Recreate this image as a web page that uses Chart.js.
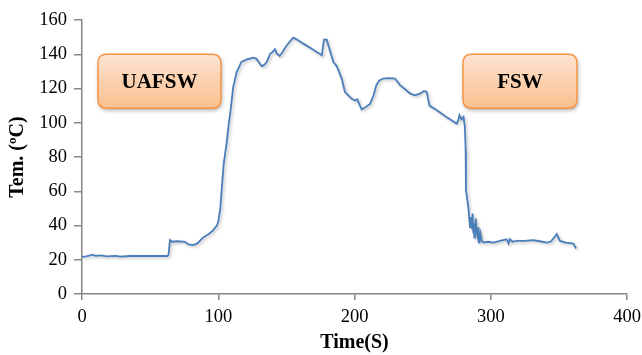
<!DOCTYPE html>
<html>
<head>
<meta charset="utf-8">
<script src="https://cdn.jsdelivr.net/npm/chart.js@4.4.1/dist/chart.umd.min.js"></script>
<style>
  html, body { margin: 0; padding: 0; background: #fff; }
  #wrap { width: 642px; height: 355px; position: relative; }
</style>
</head>
<body>
<div id="wrap"><canvas id="tempChart"></canvas></div>
<script>
// time (s) and temperature (ºC)
const timeS = [
  0, 3, 6, 7.5, 10, 14, 18, 25, 28, 35, 45, 55, 62.6, 63.5, 64.6, 66, 70, 75.6, 78, 81.7,
  85, 87, 89, 93, 96, 99, 100, 101.5, 102.5, 104, 105.4, 106, 107.5, 109, 111, 113.5, 117, 121, 125.7, 128,
  130, 132, 134, 135.5, 137, 138, 139.5, 141.6, 143, 145, 147, 150, 155, 158, 162.4, 168, 172, 176, 177.6, 179.6,
  182, 184.5, 187, 190.6, 193, 196.7, 198, 200.4, 202, 204, 205.3, 208, 211.4, 214, 216, 218, 221, 225, 229.7, 233.4,
  238, 241, 244.4, 248, 251, 253, 255, 259, 262.8, 268, 272, 275, 276, 277, 278.5, 280, 281, 281.6, 281.8, 283.5,
  284.8, 285.5, 286.2, 286.7, 287.2, 287.5, 288, 288.4, 289, 289.7, 290.5, 291, 291.6, 292.5, 293.4, 295, 298, 302, 306.8, 311.7,
  313, 314, 316, 319, 325, 331, 336, 341, 344, 346, 348.4, 350.8, 355, 360.6, 362.6
];
const tempC = [
  21.7, 22, 22.5, 23, 22.3, 22.5, 22, 22.3, 21.8, 22.2, 22.2, 22.2, 22.2, 23, 31.5, 30.5, 30.8, 30.5, 29, 28.6,
  29.7, 31.5, 33, 35, 37, 40, 42, 50, 60.6, 76, 84, 87, 98, 107, 121, 129.6, 135.5, 137, 138, 137.4,
  135, 133, 134, 135.5, 138, 140.3, 141, 143, 140.3, 139, 141, 145, 149.7, 148.5, 146.2, 143.5, 141.5, 139.4, 148.5, 148.5,
  142, 135.5, 133, 125.8, 118, 115, 114, 113, 113.7, 110, 107.7, 109, 111, 116, 121.9, 124.5, 125.8, 126, 125.8, 122,
  119, 117, 116, 117, 118.5, 118, 110, 108, 106, 103, 101, 99.5, 101, 104.4, 102, 103.4, 97.5, 84, 60.6, 51,
  39, 45, 38, 47, 36, 41, 33, 35.5, 44, 36, 33, 39, 29.6, 35, 31, 30, 30.5, 30, 31, 31.9,
  29.5, 32, 30.5, 31, 31, 31.5, 30.8, 30, 30.5, 32.5, 35, 31, 30, 29.5, 26.6
];
const xTicks = [0, 100, 200, 300, 400];
const yTicks = [0, 20, 40, 60, 80, 100, 120, 140, 160];

// callout boxes, placed in data units
const callouts = [
  { text: "UAFSW", x0: 11.7, x1: 102, y0: 140, y1: 108.5 },
  { text: "FSW", x0: 279.6, x1: 363.3, y0: 140, y1: 108.5 }
];

const SERIF = "'Liberation Serif', 'Times New Roman', serif";
const AXIS_GRAY = "#868686";

const points = timeS.map((t, i) => ({ x: t, y: tempC[i] }));

const lineShadow = {
  id: "lineShadow",
  beforeDatasetDraw(chart) {
    const ctx = chart.ctx;
    ctx.save();
    ctx.shadowColor = "rgba(0,0,0,0.25)";
    ctx.shadowBlur = 3;
    ctx.shadowOffsetX = 1.5;
    ctx.shadowOffsetY = 1.5;
  },
  afterDatasetDraw(chart) {
    chart.ctx.restore();
  }
};

function roundRect(ctx, x, y, w, h, r) {
  ctx.beginPath();
  ctx.moveTo(x + r, y);
  ctx.lineTo(x + w - r, y);
  ctx.quadraticCurveTo(x + w, y, x + w, y + r);
  ctx.lineTo(x + w, y + h - r);
  ctx.quadraticCurveTo(x + w, y + h, x + w - r, y + h);
  ctx.lineTo(x + r, y + h);
  ctx.quadraticCurveTo(x, y + h, x, y + h - r);
  ctx.lineTo(x, y + r);
  ctx.quadraticCurveTo(x, y, x + r, y);
  ctx.closePath();
}

const calloutBoxes = {
  id: "calloutBoxes",
  afterDraw(chart) {
    const { ctx, scales } = chart;
    callouts.forEach(c => {
      const left = scales.x.getPixelForValue(c.x0);
      const right = scales.x.getPixelForValue(c.x1);
      const top = scales.y.getPixelForValue(c.y0);
      const bottom = scales.y.getPixelForValue(c.y1);
      const w = right - left, h = bottom - top;
      ctx.save();
      const grad = ctx.createLinearGradient(0, top, 0, bottom);
      grad.addColorStop(0, "#fde4d2");
      grad.addColorStop(1, "#fbbf8e");
      roundRect(ctx, left, top, w, h, 9);
      ctx.shadowColor = "rgba(0,0,0,0.35)";
      ctx.shadowBlur = 4;
      ctx.shadowOffsetX = 1;
      ctx.shadowOffsetY = 2;
      ctx.fillStyle = grad;
      ctx.fill();
      ctx.shadowColor = "transparent";
      ctx.lineWidth = 1.5;
      ctx.strokeStyle = "#f79646";
      ctx.stroke();
      ctx.fillStyle = "#000";
      ctx.font = "bold 21px " + SERIF;
      ctx.textAlign = "center";
      ctx.textBaseline = "middle";
      ctx.fillText(c.text, left + w / 2, top + h / 2 + 1);
      ctx.restore();
    });
  }
};

new Chart(document.getElementById("tempChart"), {
  type: "line",
  data: {
    datasets: [{
      data: points,
      borderColor: "#4a7ebb",
      borderWidth: 1.8,
      pointRadius: 0,
      fill: false,
      tension: 0
    }]
  },
  options: {
    responsive: true,
    maintainAspectRatio: false,
    animation: false,
    events: [],
    layout: { padding: { top: 20, right: 15, left: 0, bottom: 0 } },
    plugins: {
      legend: { display: false },
      tooltip: { enabled: false }
    },
    scales: {
      x: {
        type: "linear",
        min: 0,
        max: 400,
        afterBuildTicks: (scale) => { scale.ticks = xTicks.map(v => ({ value: v })); },
        afterFit: (scale) => {
          scale.height = 61;
          scale.paddingLeft = 0;
          scale.paddingRight = 0;
        },
        border: { color: AXIS_GRAY, width: 1.5 },
        grid: { drawOnChartArea: false, drawTicks: true, tickLength: 6, color: AXIS_GRAY, lineWidth: 1.5 },
        ticks: { color: "#000", font: { family: SERIF, size: 18.5 }, padding: 6, maxRotation: 0 },
        title: { display: true, text: "Time(S)", color: "#000", font: { family: SERIF, size: 20, weight: "bold" }, padding: { top: 2, bottom: 0 } }
      },
      y: {
        min: 0,
        max: 160,
        afterBuildTicks: (scale) => { scale.ticks = yTicks.map(v => ({ value: v })); },
        afterFit: (scale) => {
          scale.width = 82;
          scale.paddingTop = 0;
          scale.paddingBottom = 0;
        },
        border: { color: AXIS_GRAY, width: 1.5 },
        grid: { drawOnChartArea: false, drawTicks: true, tickLength: 8, color: AXIS_GRAY, lineWidth: 1.5 },
        ticks: { color: "#000", font: { family: SERIF, size: 18.5 }, padding: 7 },
        title: { display: true, text: "Tem. (ºC)", color: "#000", font: { family: SERIF, size: 20, weight: "bold" }, padding: { top: 6, bottom: 0 } }
      }
    }
  },
  plugins: [lineShadow, calloutBoxes]
});
</script>
</body>
</html>
